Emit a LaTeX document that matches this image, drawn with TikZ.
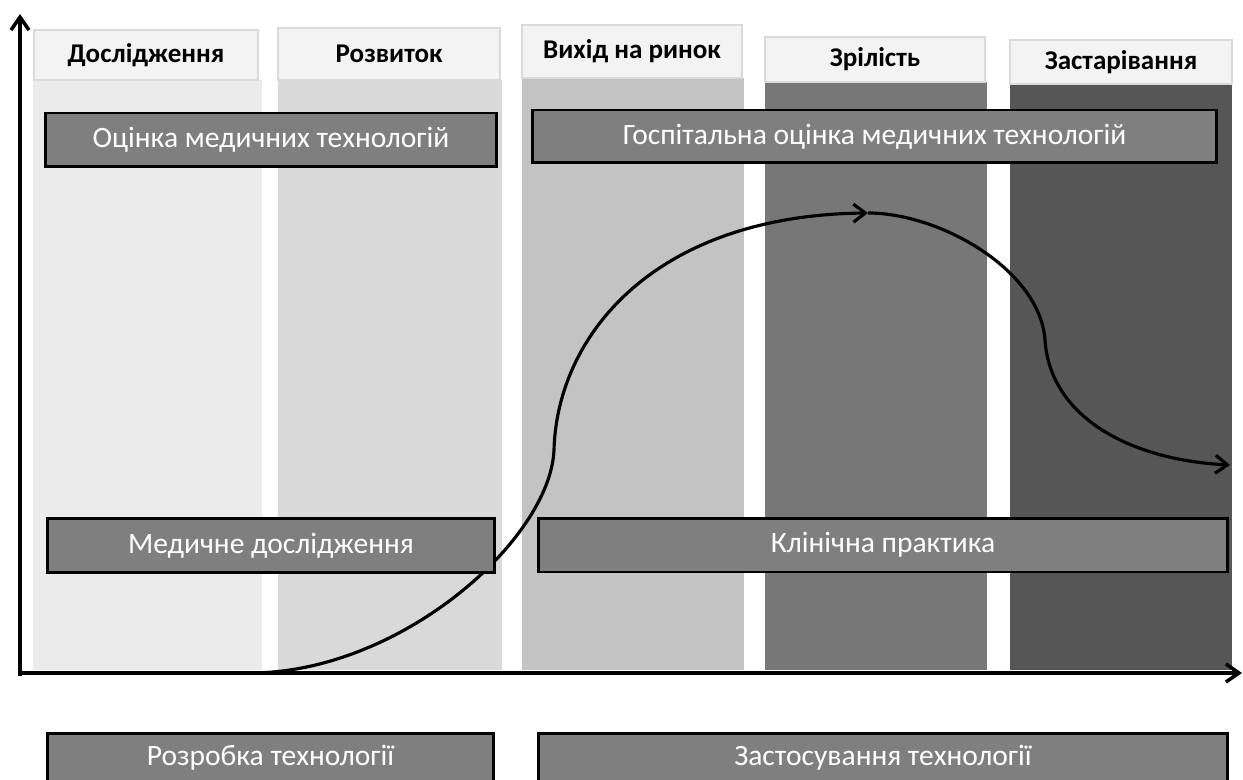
\documentclass[tikz,border=0pt]{standalone}
\usepackage{fontspec}
\setmainfont{Carlito}
\usetikzlibrary{arrows.meta}
\definecolor{phaseone}{HTML}{EBEBEB}
\definecolor{phasetwo}{HTML}{D9D9D9}
\definecolor{phasethree}{HTML}{C3C3C3}
\definecolor{phasefour}{HTML}{777777}
\definecolor{phasefive}{HTML}{565656}
\definecolor{headfill}{HTML}{F3F3F3}
\definecolor{headline}{HTML}{DADADA}
\definecolor{boxfill}{HTML}{7F7F7F}
\tikzset{
  phasehead/.style={draw=headline, line width=0.9pt, fill=headfill, inner sep=0pt,
    font=\fontsize{15.4}{18}\selectfont\bfseries},
  darkbox/.style={draw=black, line width=1.7pt, fill=boxfill, text=white, inner sep=0pt,
    minimum height=1.08cm, font=\fontsize{16.8}{20}\selectfont},
  lifecurve/.style={line width=1.8pt, -{Straight Barb[length=2.4mm,width=3.6mm]}},
  axisline/.style={line width=2pt, -{Straight Barb[length=2.6mm,width=3.6mm]}}
}
\begin{document}
\begin{tikzpicture}[x=0.02cm,y=-0.02cm]
			\useasboundingbox (0,0) rectangle (1243,780);
			\clip (0,0) rectangle (1243,780);
			%%%%% PHASES %%%%%
			\fill[phaseone] (33,80) rectangle (262,670);
			\fill[phasetwo] (278,80) rectangle (502,670);
			\fill[phasethree] (522,78) rectangle (744,670);
			\fill[phasefour] (765,82) rectangle (987,670);
			\fill[phasefive] (1010,84) rectangle (1232,670);
			
			\node[phasehead, minimum width=4.48cm, minimum height=1.0cm] (research) at (146,55) {Дослідження};
			\node[phasehead, minimum width=4.44cm, minimum height=1.04cm] (growth) at (389,54) {Розвиток};
			\node[phasehead, minimum width=4.4cm, minimum height=1.06cm] (launch) at (632,51.5) {Вихід на ринок};
			\node[phasehead, minimum width=4.4cm, minimum height=0.9cm] (maturity) at (875,59.5) {Зрілість};
			\node[phasehead, minimum width=4.44cm, minimum height=0.88cm] (obsolete) at (1121,62) {Застарівання};
			
			%%%%% AXES %%%%%
			\coordinate (origin) at (20,673);
			\coordinate (ytop) at (20,14);
			\coordinate (xend) at (1242,673);
			\draw[axisline] (20,676) -- (ytop);
			\draw[axisline] (18,673) -- (xend);
			
			%%%%% CURVE %%%%%
			\coordinate (start) at (250,673);
			\coordinate (rise) at (554,450);
			\coordinate (peak) at (868,213);
			\coordinate (drop) at (1045,340);
			\coordinate (tail) at (1230,465);
			\draw[lifecurve] (start) .. controls (400,673) and (550,540) .. (rise)
			  .. controls (557,335) and (655,215) .. (peak);
			\draw[lifecurve] (peak) .. controls (940,213) and (1040,270) .. (drop)
			  .. controls (1050,417) and (1130,460) .. (tail);
			
			%%%%% BOXES %%%%%
			\node[darkbox, minimum width=9.04cm] (hta) at (271,140) {Оцінка медичних технологій};
			\node[darkbox, minimum width=13.7cm, minimum height=1.06cm] (hospital) at (874.5,136.5) {Госпітальна оцінка медичних технологій};
			\node[darkbox, minimum width=8.96cm] (medical) at (271,545.5) {Медичне дослідження};
			\node[darkbox, minimum width=13.8cm] (clinical) at (883,545) {Клінічна практика};
			\node[darkbox, minimum width=8.94cm, minimum height=0.98cm] (develop) at (270.5,757.5) {Розробка технології};
			\node[darkbox, minimum width=13.8cm, minimum height=0.98cm] (apply) at (883,757.5) {Застосування технології};
			%%%%% END %%%%%
		\end{tikzpicture}
\end{document}
